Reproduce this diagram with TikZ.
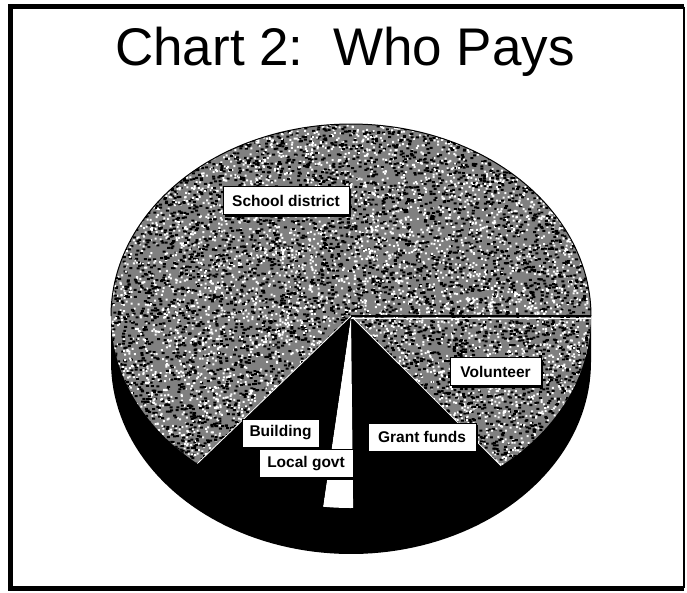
\documentclass[tikz,border=0pt]{standalone}
\usepackage{fontspec}
\setmainfont{Liberation Sans}
\usetikzlibrary{shadows}
\begin{document}
\begin{tikzpicture}[x=1pt,y=-1pt,
  tex/.style={fill=black!50},
  lbl/.style={draw=black, line width=0.8pt, fill=white,
    font=\bfseries\fontsize{15.5}{18}\selectfont,
    minimum height=28pt, inner xsep=4pt, inner ysep=0pt,
    drop shadow={shadow xshift=2pt, shadow yshift=-2pt, fill=black, opacity=1}},
  title/.style={font=\fontsize{53}{60}\selectfont, anchor=base, inner sep=0pt}
]
\useasboundingbox[fill=white] (0,0) rectangle (687,592);
% frame
\draw[line width=5pt] (684,588) -- (10.5,588) -- (10.5,6.5) -- (684,6.5);
\draw[line width=1.5pt] (684,6.5) -- (684,588);
% title
\node[title] (title) at (345,65) {Chart 2:\ \ Who Pays};
% pie side
\fill[black] (591,316) -- plot[domain=0:180,samples=90] ({351+240*cos(\x)},{362+192*sin(\x)}) -- (111,316) -- cycle;
% top face slices
\fill[tex] (351,316) -- plot[domain=129.8:360,samples=140] ({351+240*cos(\x)},{316+192*sin(\x)}) -- cycle;
\fill[tex] (351,316) -- plot[domain=0:51.3,samples=40] ({351+240*cos(\x)},{316+192*sin(\x)}) -- cycle;
% stipple texture on the shaded slices
\begin{scope}
  \clip (351,316) -- plot[domain=129.8:411.3,samples=160] ({351+240*cos(\x)},{316+192*sin(\x)}) -- cycle;
  \pgfmathsetseed{7}
  \foreach \j in {1,...,26} {
    \fill[black] \foreach \i in {1,...,250} { ({111+480*rnd},{124+350*rnd}) rectangle +(3,2) };
    \fill[white] \foreach \i in {1,...,250} { ({111+480*rnd},{124+350*rnd}) rectangle +(2,2) };
  }
\end{scope}
\fill[black] (351,316) -- plot[domain=51.3:89.5,samples=30] ({351+240*cos(\x)},{316+192*sin(\x)}) -- cycle;
\fill[white] (351,316) -- plot[domain=89.5:96.7,samples=10] ({351+240*cos(\x)},{316+192*sin(\x)}) -- cycle;
\fill[black] (351,316) -- plot[domain=96.7:129.8,samples=30] ({351+240*cos(\x)},{316+192*sin(\x)}) -- cycle;
% outlines
\draw[line width=1pt] plot[domain=180:360,samples=140] ({351+240*cos(\x)},{316+192*sin(\x)});
\draw[white, line width=0.8pt] (351,316) -- ({351+240*cos(129.8)},{316+192*sin(129.8)});
\draw[white, line width=0.8pt] (351,316) -- ({351+240*cos(51.3)},{316+192*sin(51.3)});
\draw[white, line width=0.8pt] (351,318) -- (591,318);
\draw[line width=1.2pt] (351,316) -- (591,316);
% labels
\node[lbl, minimum width=126pt] (school) at (286,200.5) {School district};
\node[lbl, minimum width=91pt] (vol) at (495.5,371.5) {Volunteer};
\node[lbl, minimum width=77pt] (bldg) at (280.5,433) {Building};
\node[lbl, minimum width=108pt] (grant) at (422,437) {Grant funds};
\node[lbl, minimum width=94pt] (local) at (306,463.5) {Local govt};
\end{tikzpicture}
\end{document}
